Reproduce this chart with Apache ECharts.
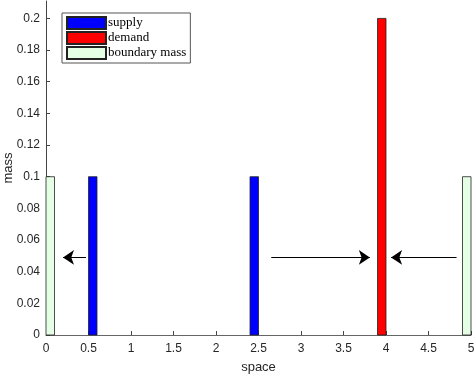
<!DOCTYPE html>
<html>
<head>
<meta charset="utf-8">
<script src="https://cdn.jsdelivr.net/npm/echarts@6/dist/echarts.min.js"></script>
<style>
  html, body { margin: 0; padding: 0; background: #fff; }
  #chart { width: 475px; height: 377px; }
</style>
</head>
<body>
<div id="chart"></div>
<script>
// bin centres (space) and masses
const binWidth = 0.1
const supplyX = [0.55, 2.45]
const supplyMass = [0.1, 0.1]
const demandX = [3.95]
const demandMass = [0.2]
const boundaryX = [0.05, 4.95]
const boundaryMass = [0.1, 0.1]

// arrows: [x, y] start -> end
const arrowFrom = [[0.47, 0.049], [2.65, 0.049], [4.83, 0.049]]
const arrowTo = [[0.2, 0.049], [3.81, 0.049], [4.06, 0.049]]

const xTicks = [0, 0.5, 1, 1.5, 2, 2.5, 3, 3.5, 4, 4.5, 5]
const yTicks = [0, 0.02, 0.04, 0.06, 0.08, 0.1, 0.12, 0.14, 0.16, 0.18, 0.2]

const chart = echarts.init(document.getElementById('chart'))

const renderBin = (params, api) => {
  const x = api.value(0)
  const p0 = api.coord([x - binWidth / 2, api.value(1)])
  const p1 = api.coord([x + binWidth / 2, 0])
  return {
    type: 'rect',
    shape: { x: p0[0], y: p0[1], width: p1[0] - p0[0], height: p1[1] - p0[1] },
    style: api.style()
  }
}

const binSeries = (name, xs, ms, color) => ({
  name,
  type: 'custom',
  renderItem: renderBin,
  itemStyle: { color, borderColor: '#222', borderWidth: 0.8 },
  encode: { x: 0, y: 1 },
  data: xs.map((x, i) => [x, ms[i]]),
  z: 2
})

const axisFont = { fontFamily: 'Liberation Sans, Arial, sans-serif', fontSize: 12, color: '#262626' }

chart.setOption({
  animation: false,
  grid: { left: 46, right: 4, top: 1, bottom: 42, containLabel: false, outerBoundsMode: 'none' },
  legend: {
    left: 62,
    top: 13,
    orient: 'vertical',
    itemWidth: 39,
    itemHeight: 12,
    itemGap: 1,
    padding: [3, 4, 3, 4],
    borderColor: '#555',
    borderWidth: 1,
    backgroundColor: '#fff',
    textStyle: { fontFamily: 'Liberation Serif, DejaVu Serif, serif', fontSize: 13, lineHeight: 14, color: '#000', padding: [0, 0, 0, -3] },
    data: [
      { name: 'supply', icon: 'rect' },
      { name: 'demand', icon: 'rect' },
      { name: 'boundary mass', icon: 'rect' }
    ]
  },
  xAxis: {
    type: 'value',
    min: 0,
    max: 5,
    interval: 0.5,
    name: 'space',
    nameLocation: 'middle',
    nameGap: 26,
    nameMoveOverlap: false,
    nameTextStyle: { fontFamily: 'Liberation Sans, Arial, sans-serif', fontSize: 13, color: '#262626' },
    axisLine: { lineStyle: { color: '#666', width: 1 } },
    axisTick: { inside: true, length: 4, lineStyle: { color: '#444' }, customValues: xTicks },
    axisLabel: { ...axisFont, margin: 8, customValues: xTicks, formatter: v => String(v) },
    splitLine: { show: false }
  },
  yAxis: {
    type: 'value',
    min: 0,
    max: 0.211,
    name: 'mass',
    nameLocation: 'middle',
    nameGap: 31,
    nameMoveOverlap: false,
    nameTextStyle: { fontFamily: 'Liberation Sans, Arial, sans-serif', fontSize: 13, color: '#262626' },
    axisLine: { show: true, lineStyle: { color: '#444', width: 1 } },
    axisTick: { show: true, inside: true, length: 4, lineStyle: { color: '#444' }, customValues: yTicks },
    axisLabel: { ...axisFont, margin: 6, customValues: yTicks, formatter: v => String(+v.toFixed(2)) },
    splitLine: { show: false }
  },
  series: [
    binSeries('supply', supplyX, supplyMass, '#0000ff'),
    binSeries('demand', demandX, demandMass, '#ff0000'),
    binSeries('boundary mass', boundaryX, boundaryMass, '#e5ffe5'),
    {
      type: 'lines',
      coordinateSystem: 'cartesian2d',
      symbol: ['none', 'arrow'],
      symbolSize: [0, 11],
      lineStyle: { color: '#000', width: 1, opacity: 1 },
      data: arrowFrom.map((p, i) => ({ coords: [p, arrowTo[i]] })),
      z: 3
    }
  ]
})
</script>
</body>
</html>
